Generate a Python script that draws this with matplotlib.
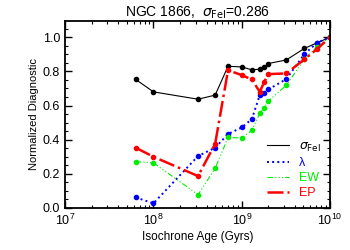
import numpy as np
import matplotlib.pyplot as plt
from matplotlib.lines import Line2D
from matplotlib.ticker import MultipleLocator, LogLocator, NullFormatter

plt.rcParams['font.family'] = ['Liberation Sans', 'DejaVu Sans']
plt.rcParams['mathtext.fontset'] = 'dejavusans'

ages = [6.3e7, 1.0e8, 3.2e8, 5.0e8, 7.0e8, 1.0e9, 1.3e9, 1.6e9, 1.8e9, 2.0e9,
        3.2e9, 5.1e9, 7.1e9, 1.0e10]

sigma_fei = [0.753, 0.68, 0.637, 0.661, 0.83, 0.826, 0.809, 0.813, 0.825, 0.846,
             0.867, 0.934, 0.967, 1.0]
lam = [0.062, 0.027, 0.304, 0.353, 0.433, 0.472, 0.52, 0.661, 0.675, 0.694,
       0.755, 0.90, 0.967, 1.0]
ew = [0.271, 0.265, 0.078, 0.232, 0.413, 0.41, 0.454, 0.554, 0.587, 0.626,
      0.719, 0.87, 0.943, 1.0]
ep = [0.353, 0.30, 0.187, 0.376, 0.807, 0.778, 0.753, 0.68, 0.739, 0.784,
      0.788, 0.87, 0.93, 1.0]

labels = [r'$\sigma_{\rm FeI}$', '\u03bb', 'EW', 'EP']
colors = ['black', 'blue', '#00ee00', 'red']
widths = [0.8, 1.4, 0.8, 1.8]
styles = ['-', ':', (0, (5, 2, 1, 2, 1, 2, 1, 2)), '-.']

fig = plt.figure(figsize=(3.5, 2.5), dpi=100)
ax = fig.add_axes([0.186, 0.168, 0.757, 0.748])

handles = []
for ys, lab, c, w, s in zip([sigma_fei, lam, ew, ep], labels, colors, widths, styles):
    ax.plot(ages, ys, color=c, lw=w, ls=s, marker='o', ms=3)
    handles.append(Line2D([], [], color=c, lw=w, ls=s, label=lab))

ax.set_xscale('log')
ax.set_xlim(1e7, 1e10)
ax.set_ylim(0, 1.095)

ax.xaxis.set_major_locator(LogLocator(base=10))
ax.xaxis.set_minor_locator(LogLocator(base=10, subs=np.arange(2, 10)))
ax.xaxis.set_minor_formatter(NullFormatter())
ax.yaxis.set_major_locator(MultipleLocator(0.2))
ax.yaxis.set_minor_locator(MultipleLocator(0.05))
ax.yaxis.set_major_formatter(plt.FormatStrFormatter('%.1f'))

ax.tick_params(which='both', direction='in', top=True, right=True, labelsize=9)
ax.tick_params(which='major', length=5, width=1)
ax.tick_params(which='minor', length=2.5, width=0.8)
for sp in ax.spines.values():
    sp.set_linewidth(1.3)

ax.set_xlabel('Isochrone Age (Gyrs)', fontsize=8.5, labelpad=2)
ax.set_ylabel('Normalized Diagnostic', fontsize=8, labelpad=3)
ax.set_title(r'NGC 1866,  $\sigma_{\rm FeI}$=0.286', fontsize=10, pad=3)

ax.legend(handles=handles, loc='lower right', frameon=False, fontsize=9,
          labelcolor='linecolor', handlelength=1.8, handletextpad=0.8,
          labelspacing=0.25, borderaxespad=0.3)

fig.savefig('out.png', dpi=100)
